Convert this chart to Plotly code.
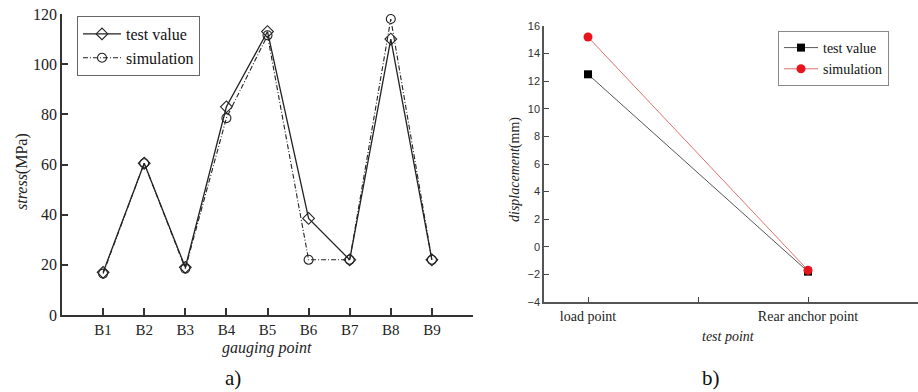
import plotly.graph_objects as go

# ---- data: chart a) ----
gauge_points = ["B1", "B2", "B3", "B4", "B5", "B6", "B7", "B8", "B9"]
stress_test = [17, 60.5, 19, 83, 113, 38.5, 22, 110, 22]
stress_sim = [16.5, 60.5, 18.5, 78.5, 111.5, 22, 22, 118, 22]

# ---- data: chart b) ----
test_points = ["load point", "Rear anchor point"]
disp_test = [12.5, -1.8]
disp_sim = [15.2, -1.7]

SERIF = "Liberation Serif, Times New Roman, serif"
SANS = "Liberation Sans, Arial, sans-serif"
W, H = 918, 392

def px(x):
    return x / W

def py(y):
    return 1 - y / H

xa = list(range(1, len(gauge_points) + 1))
xb = list(range(1, len(test_points) + 1))

fig = go.Figure()

fig.add_trace(go.Scatter(
    x=xa, y=stress_test, name="test value", mode="lines+markers",
    line=dict(color="#222", width=1.3),
    marker=dict(symbol="diamond-open", size=9, color="#222", line=dict(width=1.1)),
    xaxis="x", yaxis="y", legend="legend"))
fig.add_trace(go.Scatter(
    x=xa, y=stress_sim, name="simulation", mode="lines+markers",
    line=dict(color="#222", width=1.1, dash="5px,2px,1px,2px"),
    marker=dict(symbol="circle-open", size=9, color="#222", line=dict(width=1.1)),
    xaxis="x", yaxis="y", legend="legend"))

fig.add_trace(go.Scatter(
    x=xb, y=disp_test, name="test value", mode="lines+markers",
    line=dict(color="#555", width=1),
    marker=dict(symbol="square", size=8, color="#000"),
    xaxis="x2", yaxis="y2", legend="legend2"))
fig.add_trace(go.Scatter(
    x=xb, y=disp_sim, name="simulation", mode="lines+markers",
    line=dict(color="#e07070", width=1),
    marker=dict(symbol="circle", size=9, color="#e8141c"),
    xaxis="x2", yaxis="y2", legend="legend2"))

fig.update_layout(
    width=W, height=H, autosize=False,
    margin=dict(l=0, r=0, t=0, b=0, pad=0, autoexpand=False),
    paper_bgcolor="white", plot_bgcolor="white",
    xaxis=dict(
        domain=[px(62), px(473)], range=[0, len(gauge_points) + 1],
        tickvals=list(range(1, len(gauge_points) + 2)),
        ticktext=gauge_points + [""],
        ticks="inside", ticklen=7, tickwidth=1.5, tickcolor="#333",
        showline=True, linecolor="#333", linewidth=1.8,
        showgrid=False, zeroline=False,
        tickfont=dict(family=SERIF, size=15, color="#222"),
        anchor="y"),
    yaxis=dict(
        domain=[py(315), py(14)], range=[0, 120], dtick=20,
        ticks="inside", ticklen=6, tickwidth=1.5, tickcolor="#333",
        showline=True, linecolor="#333", linewidth=1.8,
        showgrid=False, zeroline=False,
        tickfont=dict(family=SERIF, size=16, color="#222"),
        anchor="x"),
    xaxis2=dict(
        domain=[px(544), 1.0], range=[0.8, 2.5],
        tickvals=[1, 1.5, 2], ticktext=[test_points[0], "", test_points[1]],
        ticks="inside", ticklen=5, tickwidth=1.2, tickcolor="#444",
        showline=True, linecolor="#555", linewidth=1.5,
        showgrid=False, zeroline=False,
        tickfont=dict(family=SERIF, size=14, color="#222"),
        anchor="y2"),
    yaxis2=dict(
        domain=[py(302), py(26)], range=[-4, 16], dtick=2,
        ticks="inside", ticklen=5, tickwidth=1.2, tickcolor="#444",
        showline=True, linecolor="#555", linewidth=1.5,
        showgrid=False, zeroline=False,
        tickfont=dict(family=SANS, size=11, color="#333"),
        anchor="x2"),
    legend=dict(
        x=px(77), y=py(16), xanchor="left", yanchor="top",
        bgcolor="white", bordercolor="#666", borderwidth=1,
        font=dict(family=SERIF, size=16, color="#111"),
        tracegroupgap=0, itemwidth=38),
    legend2=dict(
        x=px(778), y=py(31), xanchor="left", yanchor="top",
        bgcolor="white", bordercolor="#888", borderwidth=1,
        font=dict(family=SERIF, size=14, color="#111"),
        tracegroupgap=0, itemwidth=34),
    showlegend=True,
)

ann = [
    dict(text="<i>stress</i>(MPa)", x=px(22), y=py(172), textangle=-90,
         font=dict(family=SERIF, size=16, color="#222")),
    dict(text="<i>gauging point</i>", x=px(267), y=py(348),
         font=dict(family=SERIF, size=16, color="#222")),
    dict(text="a)", x=px(233), y=py(378),
         font=dict(family=SERIF, size=21, color="#111")),
    dict(text="<i>displacement</i>(mm)", x=px(515), y=py(170), textangle=-90,
         font=dict(family=SERIF, size=14, color="#222")),
    dict(text="<i>test point</i>", x=px(728), y=py(336),
         font=dict(family=SERIF, size=14, color="#222")),
    dict(text="b)", x=px(711), y=py(378),
         font=dict(family=SERIF, size=21, color="#111")),
]
for a in ann:
    a.update(xref="paper", yref="paper", showarrow=False,
             xanchor="center", yanchor="middle")
fig.update_layout(annotations=ann)

fig.write_html(
    "out.html",
    config={"displayModeBar": False},
    post_script="document.body.style.margin='0px';document.body.style.overflow='hidden';",
)
